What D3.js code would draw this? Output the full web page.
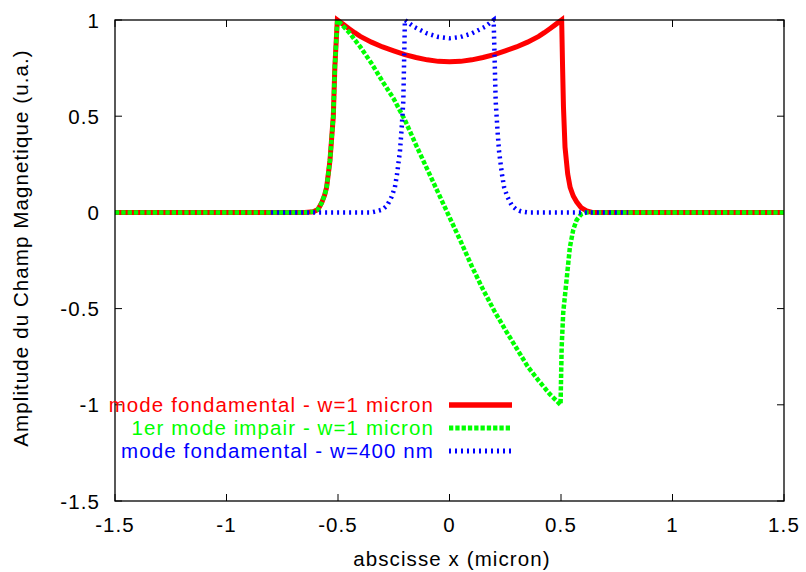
<!DOCTYPE html>
<html><head><meta charset="utf-8">
<script src="https://cdn.jsdelivr.net/npm/d3@7"></script>
<style>
html,body{margin:0;padding:0;background:#fff;}
svg{display:block;}
text{font-family:"Liberation Sans",Arial,sans-serif;}
</style></head>
<body>
<svg id="chart" width="806" height="572"></svg>
<script>
// ---- data ----
const xTicks = [-1.5, -1, -0.5, 0, 0.5, 1, 1.5];
const yTicks = [-1.5, -1, -0.5, 0, 0.5, 1];
const xTickLabels = ["-1.5", "-1", "-0.5", "0", "0.5", "1", "1.5"];
const yTickLabels = ["-1.5", "-1", "-0.5", "0", "0.5", "1"];
const seriesNames = ["mode fondamental - w=1 micron", "1er mode impair - w=1 micron", "mode fondamental - w=400 nm"];

// mode fondamental - w=1 micron
const redX = [-1.5, -1.0, -0.65, -0.611, -0.59, -0.573, -0.56, -0.551, -0.536, -0.521, -0.514, -0.503,
  -0.475, -0.45, -0.425, -0.4, -0.35, -0.3, -0.25, -0.2, -0.15, -0.1, -0.05, 0,
  0.05, 0.1, 0.15, 0.2, 0.25, 0.3, 0.35, 0.4, 0.425, 0.45, 0.475, 0.503,
  0.507, 0.511, 0.518, 0.53, 0.541, 0.555, 0.57, 0.59, 0.615, 0.64, 1.0, 1.5];
const redY = [0, 0, 0, 0.003, 0.015, 0.05, 0.09, 0.13, 0.27, 0.5, 0.76, 1.0,
  0.976, 0.955, 0.934, 0.915, 0.885, 0.86, 0.84, 0.82, 0.805, 0.793, 0.785, 0.783,
  0.785, 0.793, 0.805, 0.82, 0.84, 0.86, 0.885, 0.915, 0.934, 0.955, 0.976, 1.0,
  0.76, 0.55, 0.34, 0.2, 0.13, 0.085, 0.055, 0.025, 0.008, 0, 0, 0];

// 1er mode impair - w=1 micron
const greenX = [-1.5, -1.0, -0.65, -0.611, -0.59, -0.573, -0.56, -0.551, -0.536, -0.521, -0.514, -0.503,
  -0.45, -0.4, -0.35, -0.3, -0.25, -0.2, -0.15, -0.1, -0.05, 0,
  0.05, 0.1, 0.15, 0.2, 0.25, 0.3, 0.35, 0.4, 0.45, 0.498,
  0.503, 0.51, 0.525, 0.54, 0.555, 0.57, 0.59, 0.614, 0.64, 1.0, 1.5];
const greenY = [0, 0, 0, 0.003, 0.015, 0.05, 0.09, 0.13, 0.27, 0.5, 0.76, 1.0,
  0.935, 0.86, 0.775, 0.68, 0.59, 0.48, 0.35, 0.225, 0.1, -0.025,
  -0.15, -0.28, -0.4, -0.51, -0.61, -0.705, -0.8, -0.875, -0.945, -1.0,
  -0.7, -0.52, -0.35, -0.18, -0.09, -0.04, -0.01, 0, 0, 0, 0];

// mode fondamental - w=400 nm
const blueX = [-0.8, -0.5, -0.35, -0.33, -0.3, -0.28, -0.26, -0.245, -0.235, -0.222, -0.215, -0.207, -0.2,
  -0.16, -0.1, -0.05, 0, 0.05, 0.1, 0.16, 0.198,
  0.207, 0.215, 0.222, 0.235, 0.245, 0.26, 0.28, 0.3, 0.32, 0.35, 0.5, 0.8];
const blueY = [0, 0, 0, 0.005, 0.015, 0.035, 0.08, 0.13, 0.2, 0.32, 0.43, 0.58, 1.0,
  0.965, 0.93, 0.912, 0.905, 0.912, 0.93, 0.965, 1.0,
  0.58, 0.43, 0.32, 0.2, 0.13, 0.08, 0.035, 0.015, 0.005, 0, 0, 0];

// ---- chart ----
const svg = d3.select("#chart");
const L = 115, R = 784, T = 20, B = 501;
const x = d3.scaleLinear().domain([-1.5, 1.5]).range([L, R]);
const y = d3.scaleLinear().domain([-1.5, 1]).range([B, T]);
const FS = "20.5px", LS = "1.1px";

// ticks (inward, mirrored)
const tl = 7;
const tickG = svg.append("g").attr("stroke", "#000").attr("stroke-width", 1);
xTicks.forEach(v => {
  tickG.append("line").attr("x1", x(v)).attr("x2", x(v)).attr("y1", B).attr("y2", B - tl);
  tickG.append("line").attr("x1", x(v)).attr("x2", x(v)).attr("y1", T).attr("y2", T + tl);
});
yTicks.forEach(v => {
  tickG.append("line").attr("x1", L).attr("x2", L + tl).attr("y1", y(v)).attr("y2", y(v));
  tickG.append("line").attr("x1", R).attr("x2", R - tl).attr("y1", y(v)).attr("y2", y(v));
});

// tick labels
xTicks.forEach((v, i) => {
  svg.append("text").attr("x", x(v)).attr("y", 532).attr("text-anchor", "middle")
    .style("font-size", FS).style("letter-spacing", LS).text(xTickLabels[i]);
});
yTicks.forEach((v, i) => {
  svg.append("text").attr("x", 100).attr("y", y(v) + 7.5).attr("text-anchor", "end")
    .style("font-size", FS).style("letter-spacing", LS).text(yTickLabels[i]);
});

// axis labels
svg.append("text").attr("x", 452).attr("y", 566).attr("text-anchor", "middle")
  .style("font-size", FS).style("letter-spacing", LS).text("abscisse x (micron)");
svg.append("text").attr("transform", "translate(28,248) rotate(-90)").attr("text-anchor", "middle")
  .style("font-size", FS).style("letter-spacing", LS).text("Amplitude du Champ Magnetique (u.a.)");

// curves
const line = d3.line().x(d => x(d[0])).y(d => y(d[1]));
const styles = [
  {color: "#ff0000", w: 5, dash: null},
  {color: "#00ff00", w: 4.5, dash: "4.3,2"},
  {color: "#0000ff", w: 4.5, dash: "2,4"}
];
const data = [
  redX.map((v, i) => [v, redY[i]]),
  greenX.map((v, i) => [v, greenY[i]]),
  blueX.map((v, i) => [v, blueY[i]])
];
data.forEach((d, i) => {
  const p = svg.append("path").datum(d).attr("d", line).attr("fill", "none")
    .attr("stroke", styles[i].color).attr("stroke-width", styles[i].w)
    .attr("stroke-linejoin", "miter").attr("stroke-miterlimit", 10);
  if (styles[i].dash) p.attr("stroke-dasharray", styles[i].dash);
});

// border
svg.append("rect").attr("x", L).attr("y", T).attr("width", R - L).attr("height", B - T)
  .attr("fill", "none").attr("stroke", "#000").attr("stroke-width", 1.3);

// legend
const legY = [405, 428, 451];
seriesNames.forEach((n, i) => {
  svg.append("text").attr("x", 434).attr("y", legY[i] + 7).attr("text-anchor", "end")
    .attr("fill", styles[i].color).style("font-size", FS).style("letter-spacing", LS).text(n);
  const p = svg.append("line").attr("x1", 449).attr("x2", 512).attr("y1", legY[i]).attr("y2", legY[i])
    .attr("stroke", styles[i].color).attr("stroke-width", i === 0 ? 5.5 : 5);
  if (styles[i].dash) p.attr("stroke-dasharray", styles[i].dash);
});
</script>
</body></html>
